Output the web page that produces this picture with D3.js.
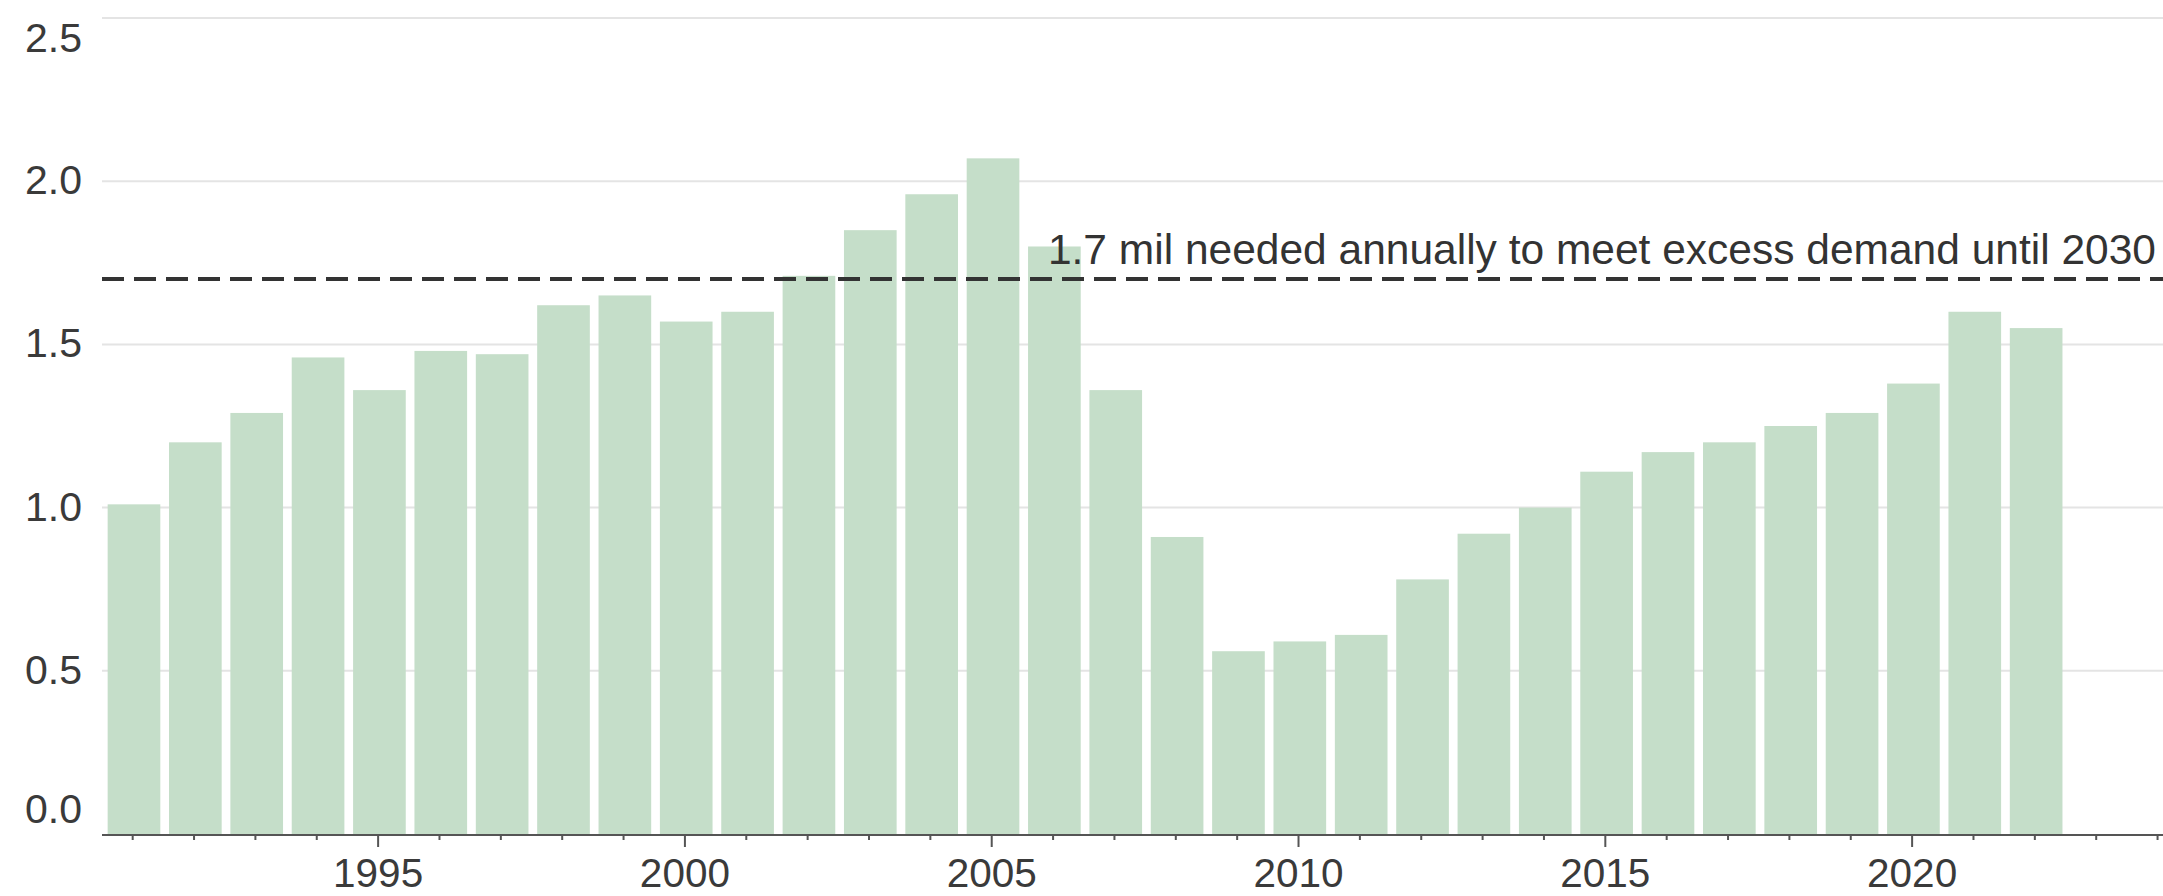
<!DOCTYPE html>
<html>
<head>
<meta charset="utf-8">
<script src="https://cdn.jsdelivr.net/npm/d3@7"></script>
<style>
  html, body { margin: 0; padding: 0; background: #fff; overflow: hidden; }
  svg { display: block; font-family: "Liberation Sans", Arial, sans-serif; }
</style>
</head>
<body>
<svg id="chart" width="2163" height="896"></svg>
<script>
const years = [1991,1992,1993,1994,1995,1996,1997,1998,1999,2000,2001,2002,2003,2004,2005,2006,2007,2008,2009,2010,2011,2012,2013,2014,2015,2016,2017,2018,2019,2020,2021,2022];
const starts = [1.01,1.20,1.29,1.46,1.36,1.48,1.47,1.62,1.65,1.57,1.60,1.71,1.85,1.96,2.07,1.80,1.36,0.91,0.56,0.59,0.61,0.78,0.92,1.00,1.11,1.17,1.20,1.25,1.29,1.38,1.60,1.55];
const yTicks = [0, 0.5, 1.0, 1.5, 2.0, 2.5];
const xMajorTicks = [1995, 2000, 2005, 2010, 2015, 2020];
const xMinorTicks = d3.range(1991, 2025);
const targetValue = 1.7;
const targetLabel = "1.7 mil needed annually to meet excess demand until 2030";

(function () {
const svg = d3.select("#chart");
const mLeft = 102, mRight = 2163, mTop = 18, mBottom = 834;

const x = d3.scaleLinear().domain([1990.5, 1990.5 + (mRight - mLeft) / 61.36]).range([mLeft, mRight]);
const y = d3.scaleLinear().domain([0, 2.5]).range([mBottom, mTop]);

const textColor = "#3a3a3a";

// gridlines
svg.append("g").selectAll("line").data(yTicks.filter(d => d > 0)).join("line")
  .attr("x1", mLeft).attr("x2", mRight)
  .attr("y1", d => y(d)).attr("y2", d => y(d))
  .attr("stroke", "#e4e4e4").attr("stroke-width", 2);

// y labels
svg.append("g").selectAll("text").data(yTicks).join("text")
  .attr("x", 82)
  .attr("y", (d, i) => {
    if (i === yTicks.length - 1) return y(d) + 34;
    if (i === 0) return y(d) - 11;
    return y(d) + 13;
  })
  .attr("text-anchor", "end")
  .attr("font-size", 41)
  .attr("fill", textColor)
  .text(d => d3.format(".1f")(d));

// bars
const step = x(1) - x(0);
const bw = step - 8.7;
svg.append("g").selectAll("rect").data(years).join("rect")
  .attr("x", d => x(d) + 1.3 - bw / 2)
  .attr("width", bw)
  .attr("y", (d, i) => y(starts[i]))
  .attr("height", (d, i) => y(0) - y(starts[i]))
  .attr("fill", "#c5dec9");

// x axis
const ax = svg.append("g");
ax.append("line").attr("x1", mLeft).attr("x2", mRight).attr("y1", mBottom + 1).attr("y2", mBottom + 1)
  .attr("stroke", "#555").attr("stroke-width", 2);
ax.selectAll("line.minor").data(xMinorTicks.filter(d => !xMajorTicks.includes(d))).join("line")
  .attr("class", "minor")
  .attr("x1", d => x(d)).attr("x2", d => x(d))
  .attr("y1", mBottom + 1).attr("y2", mBottom + 6)
  .attr("stroke", "#555").attr("stroke-width", 2);
ax.selectAll("line.major").data(xMajorTicks).join("line")
  .attr("class", "major")
  .attr("x1", d => x(d)).attr("x2", d => x(d))
  .attr("y1", mBottom + 1).attr("y2", mBottom + 13)
  .attr("stroke", "#555").attr("stroke-width", 2);
ax.selectAll("text").data(xMajorTicks).join("text")
  .attr("x", d => x(d))
  .attr("y", 887)
  .attr("text-anchor", "middle")
  .attr("font-size", 40.5)
  .attr("fill", textColor)
  .text(d => d);

// target line
svg.append("line")
  .attr("x1", mLeft).attr("x2", mRight)
  .attr("y1", y(targetValue)).attr("y2", y(targetValue))
  .attr("stroke", "#333").attr("stroke-width", 4)
  .attr("stroke-dasharray", "22,10");

svg.append("text")
  .attr("x", 2156)
  .attr("y", y(targetValue) - 15)
  .attr("text-anchor", "end")
  .attr("font-size", 42.5)
  .attr("fill", "#333")
  .text(targetLabel);
})();
</script>
</body>
</html>
